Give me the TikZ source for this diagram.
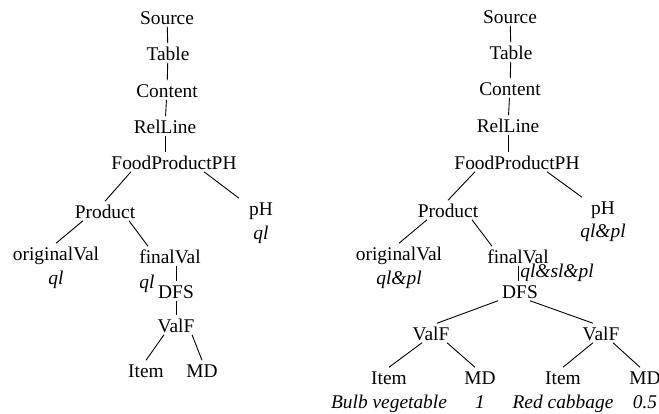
\documentclass[tikz,border=0pt]{standalone}
\usepackage{fontspec}
\setmainfont{Liberation Serif}
\usepackage{tikz}

\begin{document}
\begin{tikzpicture}[x=1pt,y=-1pt,line width=0.9pt,
	tree_node/.style={inner sep=0pt,outer sep=1pt,text height=16.5pt,text depth=1pt,font=\fontsize{19.4}{23}\selectfont},
	val_node/.style={tree_node,font=\fontsize{19.4}{23}\selectfont\itshape}]
		\useasboundingbox (0,0) rectangle (659,414);

		% left tree
		\node[tree_node] (src1) at (167,17) {Source};
		\node[tree_node] (tab1) at (168,53) {Table};
		\node[tree_node] (con1) at (167,90) {Content};
		\node[tree_node] (rel1) at (165,126) {RelLine};
		\node[tree_node] (fpph1) at (174,162) {FoodProductPH};
		\node[tree_node] (prod1) at (105,211) {Product};
		\node[tree_node] (ph1) at (261,208) {pH};
		\node[val_node] (phq1) at (261,232) {ql};
		\node[tree_node] (orig1) at (56,253) {originalVal};
		\node[val_node] (origq1) at (56,277) {ql};
		\node[tree_node] (fin1) at (170,256) {finalVal};
		\node[val_node] (finq1) at (147,281) {ql};
		\node[tree_node] (dfs1) at (176,291) {DFS};
		\node[tree_node] (valf1) at (176,325) {ValF};
		\node[tree_node] (item1) at (146,370) {Item};
		\node[tree_node] (md1) at (202,370) {MD};

		\draw (src1) -- (tab1);
		\draw (tab1) -- (con1);
		\draw (con1) -- (rel1);
		\draw (rel1.south) -- (rel1.south |- fpph1.north);
		\draw ([xshift=-43pt]fpph1.south) -- (prod1.north);
		\draw ([xshift=30pt]fpph1.south) -- ([xshift=-22pt]ph1.north);
		\draw ([xshift=-22pt]prod1.south) -- (orig1.north);
		\draw ([xshift=24pt]prod1.south) -- ([xshift=-22pt]fin1.north);
		\draw (dfs1.north |- fin1.south) -- (dfs1.north);
		\draw (dfs1) -- (valf1);
		\draw ([xshift=-12pt]valf1.south) -- (item1.north);
		\draw ([xshift=16pt]valf1.south) -- (md1.north);

		% right tree
		\node[tree_node] (src2) at (510,16) {Source};
		\node[tree_node] (tab2) at (511,52) {Table};
		\node[tree_node] (con2) at (510,88) {Content};
		\node[tree_node] (rel2) at (508,125) {RelLine};
		\node[tree_node] (fpph2) at (517,162) {FoodProductPH};
		\node[tree_node] (prod2) at (448,210) {Product};
		\node[tree_node] (ph2) at (603,207) {pH};
		\node[val_node] (phq2) at (603,230) {ql\&pl};
		\node[tree_node] (orig2) at (399,253) {originalVal};
		\node[val_node] (origq2) at (399,277) {ql\&pl};
		\node[tree_node] (fin2) at (518,256) {finalVal};
		\node[val_node] (finq2) at (557,270) {ql\&sl\&pl};
		\node[tree_node] (dfs2) at (520,291) {DFS};
		\node[tree_node] (valfa2) at (431,333) {ValF};
		\node[tree_node] (valfb2) at (601,333) {ValF};
		\node[tree_node] (itema2) at (389,377) {Item};
		\node[tree_node] (mda2) at (480,377) {MD};
		\node[tree_node] (itemb2) at (563,377) {Item};
		\node[tree_node] (mdb2) at (645,377) {MD};
		\node[val_node] (itemaq2) at (389,401) {Bulb vegetable};
		\node[val_node] (mdaq2) at (480,401) {1};
		\node[val_node] (itembq2) at (563,401) {Red cabbage};
		\node[val_node] (mdbq2) at (645,401) {0.5};

		\draw (src2) -- (tab2);
		\draw (tab2) -- (con2);
		\draw (con2) -- (rel2);
		\draw (rel2.south) -- (rel2.south |- fpph2.north);
		\draw ([xshift=-42pt]fpph2.south) -- (prod2.north);
		\draw ([xshift=30pt]fpph2.south) -- ([xshift=-21pt]ph2.north);
		\draw ([xshift=-21pt]prod2.south) -- (orig2.north);
		\draw ([xshift=24pt]prod2.south) -- ([xshift=-26pt]fin2.north);
		\draw (fin2.south) -- (fin2.south |- dfs2.north);
		\draw ([xshift=-22pt]dfs2.south) -- ([xshift=6pt]valfa2.north);
		\draw ([xshift=10pt]dfs2.south) -- ([xshift=-8pt]valfb2.north);
		\draw ([xshift=-9pt]valfa2.south) -- (itema2.north);
		\draw ([xshift=16pt]valfa2.south) -- ([xshift=-5pt]mda2.north);
		\draw ([xshift=-8pt]valfb2.south) -- (itemb2.north);
		\draw ([xshift=12pt]valfb2.south) -- ([xshift=-5pt]mdb2.north);
		\end{tikzpicture}
\end{document}
